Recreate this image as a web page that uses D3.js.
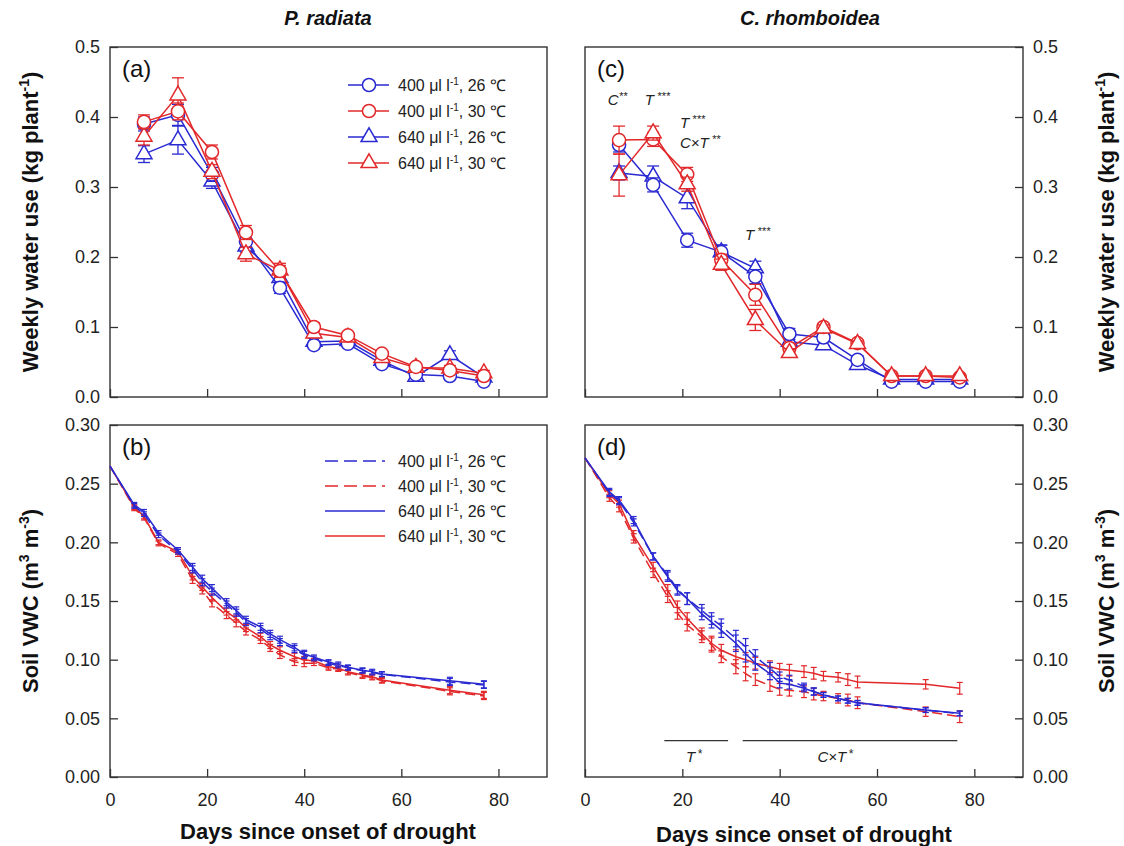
<!DOCTYPE html>
<html>
<head>
<meta charset="utf-8">
<script src="https://cdn.jsdelivr.net/npm/d3@7"></script>
<style>
body { margin: 0; background: #fff; }
svg { font-family: "Liberation Sans", Arial, sans-serif; }
</style>
</head>
<body>
<svg width="1124" height="846"></svg>
<script>
// weekly water use, days since onset of drought
const weeks = [7, 14, 21, 28, 35, 42, 49, 56, 63, 70, 77];

// P. radiata
const prUse400_26 = [0.390, 0.403, 0.318, 0.222, 0.156, 0.074, 0.076, 0.047, 0.032, 0.030, 0.022];
const prUse400_30 = [0.393, 0.408, 0.350, 0.235, 0.180, 0.100, 0.088, 0.062, 0.043, 0.038, 0.030];
const prUse640_26 = [0.347, 0.367, 0.308, 0.215, 0.170, 0.079, 0.080, 0.052, 0.029, 0.060, 0.028];
const prUse640_30 = [0.372, 0.431, 0.322, 0.204, 0.181, 0.091, 0.085, 0.056, 0.042, 0.041, 0.034];
const prUseSe400_26 = [0.010, 0.015, 0.010, 0.008, 0.008, 0.005, 0.005, 0.004, 0.003, 0.003, 0.003];
const prUseSe400_30 = [0.010, 0.012, 0.010, 0.010, 0.008, 0.006, 0.005, 0.004, 0.004, 0.003, 0.003];
const prUseSe640_26 = [0.012, 0.020, 0.010, 0.008, 0.008, 0.005, 0.005, 0.004, 0.004, 0.006, 0.003];
const prUseSe640_30 = [0.012, 0.025, 0.010, 0.010, 0.010, 0.006, 0.005, 0.004, 0.004, 0.004, 0.004];

// C. rhomboidea
const crUse400_26 = [0.360, 0.303, 0.224, 0.207, 0.172, 0.090, 0.085, 0.053, 0.022, 0.022, 0.022];
const crUse400_30 = [0.367, 0.368, 0.318, 0.196, 0.146, 0.070, 0.100, 0.077, 0.030, 0.030, 0.028];
const crUse640_26 = [0.320, 0.315, 0.284, 0.207, 0.184, 0.079, 0.074, 0.046, 0.025, 0.025, 0.025];
const crUse640_30 = [0.317, 0.377, 0.304, 0.189, 0.110, 0.063, 0.098, 0.076, 0.030, 0.030, 0.030];
const crUseSe400_26 = [0.010, 0.010, 0.010, 0.010, 0.010, 0.008, 0.006, 0.006, 0.003, 0.003, 0.003];
const crUseSe400_30 = [0.020, 0.010, 0.010, 0.008, 0.015, 0.006, 0.005, 0.004, 0.003, 0.003, 0.003];
const crUseSe640_26 = [0.010, 0.015, 0.015, 0.010, 0.010, 0.008, 0.006, 0.006, 0.003, 0.003, 0.003];
const crUseSe640_30 = [0.030, 0.010, 0.010, 0.008, 0.015, 0.006, 0.005, 0.004, 0.003, 0.003, 0.003];

// soil VWC
const vwcDays = [0, 5, 7, 10, 14, 17, 19, 21, 24, 26, 28, 31, 33, 35, 38, 40, 42, 45, 47, 49, 52, 54, 56, 70, 77];

const prVwc400_26 = [0.265, 0.231, 0.224, 0.206, 0.192, 0.177, 0.166, 0.158, 0.147, 0.140, 0.132, 0.126, 0.120, 0.115, 0.109, 0.104, 0.101, 0.097, 0.095, 0.093, 0.0905, 0.089, 0.0875, 0.081, 0.0785];
const prVwc400_30 = [0.265, 0.229, 0.221, 0.199, 0.190, 0.168, 0.159, 0.148, 0.138, 0.131, 0.124, 0.1168, 0.110, 0.104, 0.098, 0.097, 0.097, 0.093, 0.092, 0.089, 0.086, 0.0848, 0.082, 0.073, 0.069];
const prVwc640_26 = [0.265, 0.232, 0.226, 0.208, 0.1935, 0.179, 0.169, 0.161, 0.149, 0.142, 0.134, 0.128, 0.122, 0.117, 0.1105, 0.105, 0.102, 0.098, 0.096, 0.0935, 0.091, 0.0898, 0.0878, 0.082, 0.079];
const prVwc640_30 = [0.265, 0.230, 0.222, 0.200, 0.192, 0.171, 0.162, 0.153, 0.141, 0.135, 0.127, 0.1196, 0.1125, 0.108, 0.1025, 0.0997, 0.099, 0.094, 0.0926, 0.0898, 0.087, 0.0855, 0.0827, 0.074, 0.070];
const prVwcSe = [0, 0.002, 0.002, 0.002, 0.002, 0.003, 0.003, 0.003, 0.003, 0.003, 0.003, 0.003, 0.003, 0.003, 0.003, 0.003, 0.002, 0.002, 0.002, 0.002, 0.002, 0.002, 0.002, 0.003, 0.003];

const crVwc400_26 = [0.272, 0.242, 0.235, 0.217, 0.188, 0.172, 0.160, 0.152, 0.142, 0.135, 0.1287, 0.118, 0.111, 0.1025, 0.0926, 0.0855, 0.0827, 0.077, 0.073, 0.070, 0.067, 0.065, 0.063, 0.057, 0.054];
const crVwc400_30 = [0.272, 0.238, 0.229, 0.2034, 0.174, 0.1537, 0.1395, 0.1295, 0.1196, 0.1125, 0.1025, 0.094, 0.088, 0.083, 0.078, 0.0747, 0.074, 0.0727, 0.0707, 0.069, 0.067, 0.0656, 0.0633, 0.0557, 0.0514];
const crVwc640_26 = [0.272, 0.243, 0.236, 0.219, 0.188, 0.1707, 0.159, 0.152, 0.139, 0.132, 0.125, 0.114, 0.105, 0.097, 0.088, 0.080, 0.079, 0.0756, 0.0727, 0.070, 0.067, 0.065, 0.0633, 0.057, 0.0543];
const crVwc640_30 = [0.272, 0.241, 0.233, 0.206, 0.179, 0.159, 0.145, 0.135, 0.122, 0.114, 0.108, 0.1025, 0.100, 0.097, 0.094, 0.0918, 0.091, 0.0898, 0.0884, 0.086, 0.085, 0.083, 0.081, 0.079, 0.0756];
const crVwcSeBlue = [0, 0.003, 0.003, 0.003, 0.003, 0.004, 0.004, 0.005, 0.005, 0.005, 0.006, 0.007, 0.007, 0.006, 0.005, 0.004, 0.004, 0.003, 0.003, 0.002, 0.002, 0.002, 0.002, 0.002, 0.002];
const crVwcSeRed = [0, 0.003, 0.003, 0.004, 0.004, 0.005, 0.005, 0.005, 0.005, 0.006, 0.005, 0.006, 0.006, 0.005, 0.005, 0.005, 0.005, 0.005, 0.005, 0.004, 0.004, 0.005, 0.005, 0.004, 0.005];

const treatments = ['400 μl l', '400 μl l', '640 μl l', '640 μl l'];
const temps = [', 26 ℃', ', 30 ℃', ', 26 ℃', ', 30 ℃'];

const xTicks = [0, 20, 40, 60, 80];
const useTicks = [0, 0.1, 0.2, 0.3, 0.4, 0.5];
const vwcTicks = [0, 0.05, 0.10, 0.15, 0.20, 0.25, 0.30];

const blue = '#2a2ad2', red = '#e2282a';
const svg = d3.select('svg');

const panel = (box, yDomain, yTicks, yFmt, side, showX, tag) => {
    const x = d3.scaleLinear().domain([0, 90]).range([box.left, box.right]);
    const y = d3.scaleLinear().domain(yDomain).range([box.bottom, box.top]);
    const g = svg.append('g');

    const xAxis = d3.axisBottom(x).tickValues(xTicks).tickSize(-8).tickPadding(16)
        .tickFormat(showX ? d3.format('d') : () => '');
    const yAxis = (side === 'left' ? d3.axisLeft(y) : d3.axisRight(y))
        .tickValues(yTicks).tickSize(-8).tickPadding(10).tickFormat(d3.format(yFmt));

    const gx = g.append('g').attr('transform', `translate(0,${box.bottom})`).call(xAxis);
    if (!showX) gx.selectAll('.tick text').remove();
    g.append('g').attr('transform', `translate(${side === 'left' ? box.left : box.right},0)`).call(yAxis);
    g.selectAll('.domain').remove();
    g.selectAll('.tick line').attr('stroke', '#333').attr('stroke-width', 1.3);
    g.selectAll('.tick text').attr('font-size', 18).attr('fill', '#222')
        .attr('font-family', '"Liberation Sans", Arial, sans-serif');

    g.append('rect')
        .attr('x', box.left).attr('y', box.top)
        .attr('width', box.right - box.left).attr('height', box.bottom - box.top)
        .attr('fill', 'none').attr('stroke', '#333').attr('stroke-width', 1.4);

    g.append('text').text(tag)
        .attr('x', box.left + 12).attr('y', box.top + 30)
        .attr('font-size', 24).attr('fill', '#111');
    return {g, x, y};
};

const useSeries = (p, vals, se, color, shape) => {
    const pts = weeks.map((d, i) => ({d, v: vals[i], e: se[i]}));
    p.g.append('path').datum(pts)
        .attr('d', d3.line().x(d => p.x(d.d)).y(d => p.y(d.v)))
        .attr('fill', 'none').attr('stroke', color).attr('stroke-width', 1.5);
    const eb = p.g.append('g').attr('stroke', color).attr('stroke-width', 1.3);
    eb.selectAll(null).data(pts).enter().append('line')
        .attr('x1', d => p.x(d.d)).attr('x2', d => p.x(d.d))
        .attr('y1', d => p.y(d.v - d.e)).attr('y2', d => p.y(d.v + d.e));
    [-1, 1].forEach(s => {
        eb.selectAll(null).data(pts).enter().append('line')
            .attr('x1', d => p.x(d.d) - 6).attr('x2', d => p.x(d.d) + 6)
            .attr('y1', d => p.y(d.v + s * d.e)).attr('y2', d => p.y(d.v + s * d.e));
    });
    const sym = d3.symbol().type(shape === 'circle' ? d3.symbolCircle : d3.symbolTriangle)
        .size(shape === 'circle' ? 135 : 110);
    p.g.selectAll(null).data(pts).enter().append('path')
        .attr('d', sym)
        .attr('transform', d => `translate(${p.x(d.d)},${p.y(d.v)})`)
        .attr('fill', '#fff').attr('stroke', color).attr('stroke-width', 1.5);
};

const vwcSeries = (p, vals, se, color, dashed) => {
    const pts = vwcDays.map((d, i) => ({d, v: vals[i], e: se[i]}));
    p.g.append('path').datum(pts)
        .attr('d', d3.line().x(d => p.x(d.d)).y(d => p.y(d.v)))
        .attr('fill', 'none').attr('stroke', color).attr('stroke-width', 1.5)
        .attr('stroke-dasharray', dashed ? '10,5' : null);
    const eb = p.g.append('g').attr('stroke', color).attr('stroke-width', 1.2);
    const withErr = pts.filter(d => d.e > 0);
    eb.selectAll(null).data(withErr).enter().append('line')
        .attr('x1', d => p.x(d.d)).attr('x2', d => p.x(d.d))
        .attr('y1', d => p.y(d.v - d.e)).attr('y2', d => p.y(d.v + d.e));
    [-1, 1].forEach(s => {
        eb.selectAll(null).data(withErr).enter().append('line')
            .attr('x1', d => p.x(d.d) - 3).attr('x2', d => p.x(d.d) + 3)
            .attr('y1', d => p.y(d.v + s * d.e)).attr('y2', d => p.y(d.v + s * d.e));
    });
};

// text made of plain and raised pieces
const labelWithSup = (sel, parts, size) => {
    const rise = Math.round(size * 0.4);
    let raised = false;
    parts.forEach(([t, sup]) => {
        const ts = sel.append('tspan').text(t);
        if (sup) {
            ts.attr('font-size', Math.round(size * 0.62)).attr('dy', -rise);
            raised = true;
        } else if (raised) {
            ts.attr('dy', rise);
            raised = false;
        }
    });
};

// panels
const pa = panel({left: 110, right: 547, top: 47, bottom: 397}, [0, 0.5], useTicks, '.1f', 'left', false, '(a)');
const pb = panel({left: 110, right: 547, top: 425, bottom: 777}, [0, 0.3], vwcTicks, '.2f', 'left', true, '(b)');
const pc = panel({left: 585, right: 1023, top: 47, bottom: 397}, [0, 0.5], useTicks, '.1f', 'right', false, '(c)');
const pd = panel({left: 585, right: 1023, top: 425, bottom: 777}, [0, 0.3], vwcTicks, '.2f', 'right', true, '(d)');

useSeries(pa, prUse640_26, prUseSe640_26, blue, 'triangle');
useSeries(pa, prUse400_26, prUseSe400_26, blue, 'circle');
useSeries(pa, prUse640_30, prUseSe640_30, red, 'triangle');
useSeries(pa, prUse400_30, prUseSe400_30, red, 'circle');

useSeries(pc, crUse640_26, crUseSe640_26, blue, 'triangle');
useSeries(pc, crUse400_26, crUseSe400_26, blue, 'circle');
useSeries(pc, crUse400_30, crUseSe400_30, red, 'circle');
useSeries(pc, crUse640_30, crUseSe640_30, red, 'triangle');

vwcSeries(pb, prVwc400_30, prVwcSe, red, true);
vwcSeries(pb, prVwc640_30, prVwcSe, red, false);
vwcSeries(pb, prVwc400_26, prVwcSe, blue, true);
vwcSeries(pb, prVwc640_26, prVwcSe, blue, false);

vwcSeries(pd, crVwc400_30, crVwcSeRed, red, true);
vwcSeries(pd, crVwc640_30, crVwcSeRed, red, false);
vwcSeries(pd, crVwc400_26, crVwcSeBlue, blue, true);
vwcSeries(pd, crVwc640_26, crVwcSeBlue, blue, false);

// legends
const legColors = [blue, red, blue, red];
const legShapes = ['circle', 'circle', 'triangle', 'triangle'];
const legDashed = [true, true, false, false];

const legA = svg.append('g');
treatments.forEach((t, i) => {
    const yy = 85 + i * 26;
    legA.append('line').attr('x1', 348).attr('x2', 389).attr('y1', yy).attr('y2', yy)
        .attr('stroke', legColors[i]).attr('stroke-width', 1.5);
    legA.append('path')
        .attr('d', d3.symbol().type(legShapes[i] === 'circle' ? d3.symbolCircle : d3.symbolTriangle)
            .size(legShapes[i] === 'circle' ? 135 : 110))
        .attr('transform', `translate(369,${yy})`)
        .attr('fill', '#fff').attr('stroke', legColors[i]).attr('stroke-width', 1.5);
    const tx = legA.append('text').attr('x', 398).attr('y', yy + 6).attr('font-size', 16).attr('fill', '#222');
    labelWithSup(tx, [[t], ['-1', true], [temps[i]]], 16);
});

const legB = svg.append('g');
treatments.forEach((t, i) => {
    const yy = 461 + i * 25;
    legB.append('line').attr('x1', 325).attr('x2', 385).attr('y1', yy).attr('y2', yy)
        .attr('stroke', legColors[i]).attr('stroke-width', 1.5)
        .attr('stroke-dasharray', legDashed[i] ? '13,6' : null);
    const tx = legB.append('text').attr('x', 398).attr('y', yy + 6).attr('font-size', 16).attr('fill', '#222');
    labelWithSup(tx, [[t], ['-1', true], [temps[i]]], 16);
});

// significance notes
const useNotes = [
    {day: 4.7, v: 0.417, main: 'C', stars: '**'},
    {day: 12.3, v: 0.417, main: 'T', stars: ' ***'},
    {day: 19.5, v: 0.384, main: 'T', stars: ' ***'},
    {day: 19.5, v: 0.356, main: 'C×T', stars: ' **'},
    {day: 32.9, v: 0.224, main: 'T', stars: ' ***'}
];
useNotes.forEach(n => {
    const t = pc.g.append('text').attr('x', pc.x(n.day)).attr('y', pc.y(n.v))
        .attr('font-size', 15).attr('font-style', 'italic').attr('fill', '#222');
    t.append('tspan').text(n.main);
    t.append('tspan').text(n.stars).attr('font-size', 11).attr('dy', -5);
});

const vwcBars = [
    {from: 16.3, to: 29.4, v: 0.031, mid: 22.4, lv: 0.013, main: 'T', stars: '*'},
    {from: 32.4, to: 76.5, v: 0.031, mid: 51.4, lv: 0.013, main: 'C×T', stars: '*'}
];
vwcBars.forEach(b => {
    pd.g.append('line').attr('x1', pd.x(b.from)).attr('x2', pd.x(b.to))
        .attr('y1', pd.y(b.v)).attr('y2', pd.y(b.v)).attr('stroke', '#333').attr('stroke-width', 1.3);
    const t = pd.g.append('text').attr('x', pd.x(b.mid)).attr('y', pd.y(b.lv))
        .attr('text-anchor', 'middle').attr('font-size', 15).attr('font-style', 'italic').attr('fill', '#222');
    t.append('tspan').text(b.main);
    t.append('tspan').text(b.stars).attr('font-size', 12).attr('dx', 2).attr('dy', -4);
});

// titles
svg.append('text').text('P. radiata').attr('x', 328).attr('y', 25).attr('text-anchor', 'middle')
    .attr('font-size', 20).attr('font-weight', 'bold').attr('font-style', 'italic').attr('fill', '#111');
svg.append('text').text('C. rhomboidea').attr('x', 810).attr('y', 25).attr('text-anchor', 'middle')
    .attr('font-size', 20).attr('font-weight', 'bold').attr('font-style', 'italic').attr('fill', '#111');

const axisTitle = (x, y, parts, rotate) => {
    const t = svg.append('text')
        .attr('transform', `translate(${x},${y})` + (rotate ? ' rotate(-90)' : ''))
        .attr('text-anchor', 'middle').attr('font-size', 22).attr('font-weight', 'bold').attr('fill', '#111');
    labelWithSup(t, parts, 22);
};
const useTitle = [['Weekly water use (kg plant'], ['-1', true], [')']];
const vwcTitle = [['Soil VWC (m'], ['3', true], [' m'], ['-3', true], [')']];
axisTitle(38, 222, useTitle, true);
axisTitle(38, 601, vwcTitle, true);
axisTitle(1114, 222, useTitle, true);
axisTitle(1114, 601, vwcTitle, true);
axisTitle(328, 839, [['Days since onset of drought']], false);
axisTitle(804, 842, [['Days since onset of drought']], false);
</script>
</body>
</html>
